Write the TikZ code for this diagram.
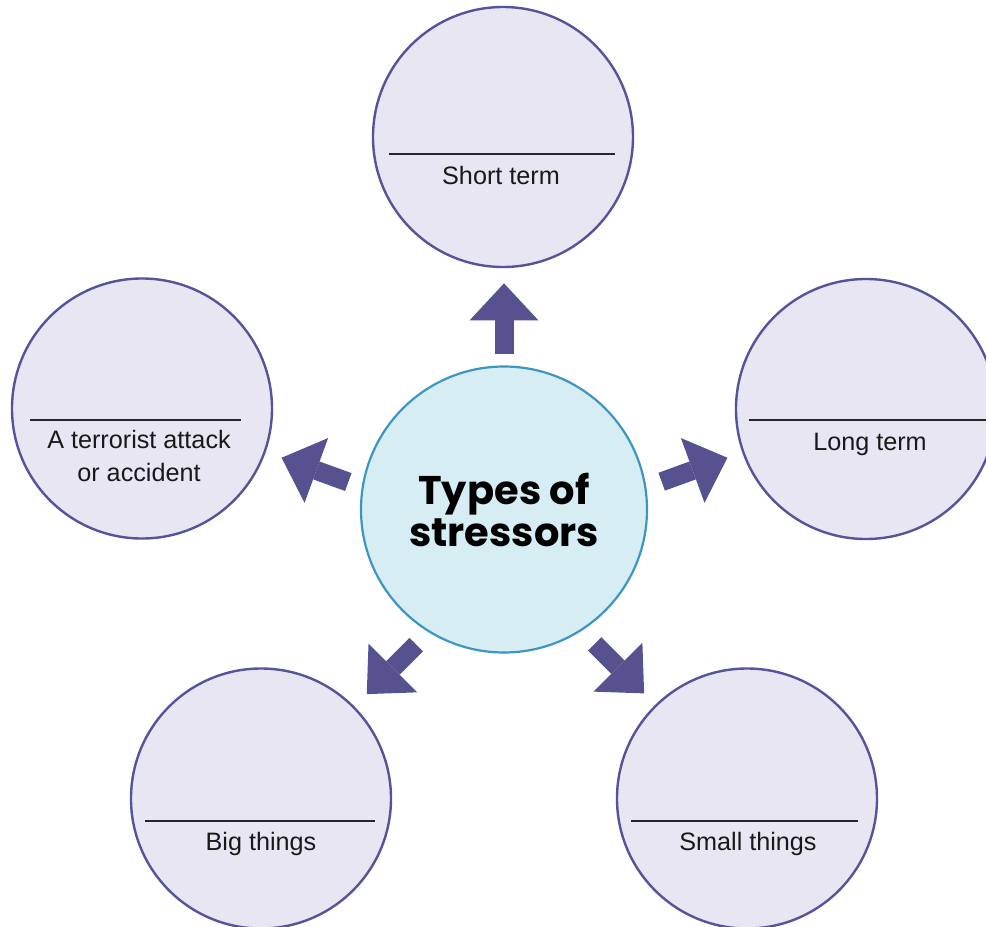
\documentclass[tikz,border=0pt]{standalone}
\usepackage{fontspec}
\setmainfont{Liberation Sans}
\newfontfamily\headfont{Poppins}
\usepackage{xcolor}
\usetikzlibrary{arrows.meta}
\definecolor{arrowcol}{HTML}{55528F}
\definecolor{ringcol}{HTML}{56539A}
\definecolor{ringfill}{HTML}{E7E6F2}
\definecolor{hubcol}{HTML}{3D95C2}
\definecolor{hubfill}{HTML}{D5EDF3}
\tikzset{
  leaf/.style={circle,draw=ringcol,line width=1.2pt,fill=ringfill,minimum size=130pt,inner sep=0pt},
  hubnode/.style={circle,draw=hubcol,line width=1.1pt,fill=hubfill,minimum size=143pt,inner sep=0pt,
    align=center,font=\headfont\bfseries\fontsize{20}{21}\selectfont},
  rule/.style={line width=0.6pt,black!85},
  caption/.style={anchor=base,align=center,text=black!90,font=\fontsize{12.6}{16.5}\selectfont},
  blockarrow/.style={arrowcol,line width=9.5pt,-{Triangle[length=18.5pt,width=34.5pt,line width=0pt]}}
}

\begin{document}
\begin{tikzpicture}[x=0.5pt,y=0.5pt]
    \useasboundingbox (0,0) rectangle (986,-927);
    \clip (0,0) rectangle (986,-927);
        % centre and the five outer circles
        \node[hubnode] (hub) at (504,-509.5) {Types of\\stressors};
        \node[leaf] (short) at (503,-137) {};
        \node[leaf] (event) at (142,-408.5) {};
        \node[leaf] (long) at (866,-409) {};
        \node[leaf] (big) at (261,-798.5) {};
        \node[leaf] (small) at (747,-798.5) {};
        % writing lines and their captions
        \draw[rule] ([shift={(-114,-17)}]short.center) -- ++(226,0);
        \node[caption] (shorttxt) at ([shift={(-2,-47)}]short.center) {Short term};
        \draw[rule] ([shift={(-112,-11.5)}]event.center) -- ++(211,0);
        \node[caption] (eventtxt) at ([shift={(-3,-72.5)}]event.center) {A terrorist attack\\or accident};
        \draw[rule] ([shift={(-117,-11)}]long.center) -- ++(240,0);
        \node[caption] (longtxt) at ([shift={(4,-41)}]long.center) {Long term};
        \draw[rule] ([shift={(-116,-22.5)}]big.center) -- ++(230,0);
        \node[caption] (bigtxt) at ([shift={(0,-51.5)}]big.center) {Big things};
        \draw[rule] ([shift={(-116,-22.5)}]small.center) -- ++(227,0);
        \node[caption] (smalltxt) at ([shift={(1,-51.5)}]small.center) {Small things};
        % block arrows out of the centre
        \draw[blockarrow] ([shift={(90:11)}]hub.90) -- ++(90:71);
        \draw[blockarrow] ([shift={(170:14)}]hub.170) -- ++(160:71);
        \draw[blockarrow] ([shift={(10:16)}]hub.10) -- ++(20:70);
        \draw[blockarrow] ([shift={(237:17)}]hub.237) -- ++(225:70);
        \draw[blockarrow] ([shift={(304:18)}]hub.304) -- ++(315:70);
    \end{tikzpicture}
\end{document}
